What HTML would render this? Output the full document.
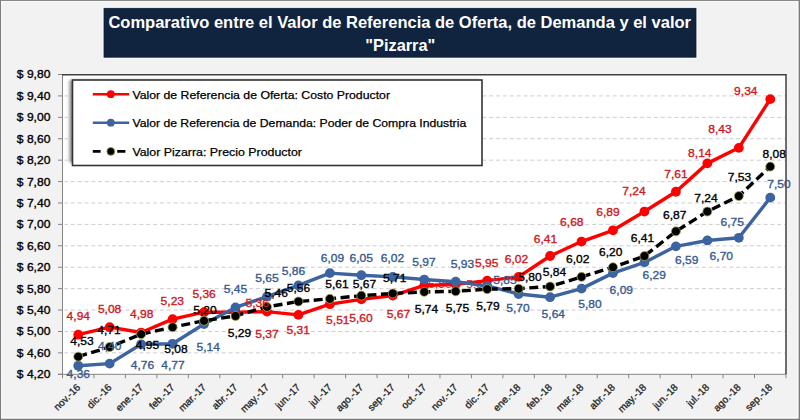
<!DOCTYPE html><html><head><meta charset="utf-8"><style>html,body{margin:0;padding:0;background:#f2f2f2;}svg{display:block;font-family:"Liberation Sans",sans-serif;}</style></head><body>
<svg width="800" height="420" viewBox="0 0 800 420">
<defs><filter id="sh" x="-20%" y="-20%" width="140%" height="140%"><feGaussianBlur stdDeviation="1.6"/></filter></defs>
<rect x="0" y="0" width="800" height="420" fill="#7c7c7c"/>
<rect x="1" y="0.9" width="797.6" height="417.8" fill="#fbfbfb"/>
<rect x="1.8" y="1.8" width="795.2" height="415.4" fill="#f2f2f2"/>
<rect x="102.3" y="6.6" width="595.4" height="52.4" fill="#fbfbfb"/>
<rect x="104" y="8.3" width="592" height="48.9" fill="#10243f" stroke="#0a1a31" stroke-width="0.8"/>
<text x="108.4" y="28.3" font-size="16.5" font-weight="bold" fill="#ffffff" textLength="582.6" lengthAdjust="spacingAndGlyphs">Comparativo entre el Valor de Referencia de Oferta, de Demanda y el valor</text>
<text x="365.3" y="50.8" font-size="16.5" font-weight="bold" fill="#ffffff" textLength="70" lengthAdjust="spacingAndGlyphs">"Pizarra"</text>
<rect x="62.5" y="74.5" width="723.5" height="299.8" fill="#ffffff"/>
<line x1="64.5" y1="95.91" x2="785" y2="95.91" stroke="#cdcdcd" stroke-width="1" stroke-dasharray="4 2.86" stroke-dashoffset="0.6"/>
<line x1="64.5" y1="117.33" x2="785" y2="117.33" stroke="#cdcdcd" stroke-width="1" stroke-dasharray="4 2.86" stroke-dashoffset="0.6"/>
<line x1="64.5" y1="138.74" x2="785" y2="138.74" stroke="#cdcdcd" stroke-width="1" stroke-dasharray="4 2.86" stroke-dashoffset="0.6"/>
<line x1="64.5" y1="160.16" x2="785" y2="160.16" stroke="#cdcdcd" stroke-width="1" stroke-dasharray="4 2.86" stroke-dashoffset="0.6"/>
<line x1="64.5" y1="181.57" x2="785" y2="181.57" stroke="#cdcdcd" stroke-width="1" stroke-dasharray="4 2.86" stroke-dashoffset="0.6"/>
<line x1="64.5" y1="202.99" x2="785" y2="202.99" stroke="#cdcdcd" stroke-width="1" stroke-dasharray="4 2.86" stroke-dashoffset="0.6"/>
<line x1="64.5" y1="224.4" x2="785" y2="224.4" stroke="#cdcdcd" stroke-width="1" stroke-dasharray="4 2.86" stroke-dashoffset="0.6"/>
<line x1="64.5" y1="245.81" x2="785" y2="245.81" stroke="#cdcdcd" stroke-width="1" stroke-dasharray="4 2.86" stroke-dashoffset="0.6"/>
<line x1="64.5" y1="267.23" x2="785" y2="267.23" stroke="#cdcdcd" stroke-width="1" stroke-dasharray="4 2.86" stroke-dashoffset="0.6"/>
<line x1="64.5" y1="288.64" x2="785" y2="288.64" stroke="#cdcdcd" stroke-width="1" stroke-dasharray="4 2.86" stroke-dashoffset="0.6"/>
<line x1="64.5" y1="310.06" x2="785" y2="310.06" stroke="#cdcdcd" stroke-width="1" stroke-dasharray="4 2.86" stroke-dashoffset="0.6"/>
<line x1="64.5" y1="331.47" x2="785" y2="331.47" stroke="#cdcdcd" stroke-width="1" stroke-dasharray="4 2.86" stroke-dashoffset="0.6"/>
<line x1="64.5" y1="352.89" x2="785" y2="352.89" stroke="#cdcdcd" stroke-width="1" stroke-dasharray="4 2.86" stroke-dashoffset="0.6"/>
<line x1="62.5" y1="74" x2="62.5" y2="378" stroke="#858585" stroke-width="1"/>
<line x1="58" y1="374.3" x2="786" y2="374.3" stroke="#858585" stroke-width="1"/>
<line x1="58" y1="74.5" x2="62.5" y2="74.5" stroke="#858585" stroke-width="1"/>
<text transform="translate(50.4 78.45) scale(1.05 1)" font-size="11.5" text-anchor="end" fill="#000" stroke="#000" stroke-width="0.35">$ 9,80</text>
<line x1="58" y1="95.91" x2="62.5" y2="95.91" stroke="#858585" stroke-width="1"/>
<text transform="translate(50.4 99.86) scale(1.05 1)" font-size="11.5" text-anchor="end" fill="#000" stroke="#000" stroke-width="0.35">$ 9,40</text>
<line x1="58" y1="117.33" x2="62.5" y2="117.33" stroke="#858585" stroke-width="1"/>
<text transform="translate(50.4 121.28) scale(1.05 1)" font-size="11.5" text-anchor="end" fill="#000" stroke="#000" stroke-width="0.35">$ 9,00</text>
<line x1="58" y1="138.74" x2="62.5" y2="138.74" stroke="#858585" stroke-width="1"/>
<text transform="translate(50.4 142.69) scale(1.05 1)" font-size="11.5" text-anchor="end" fill="#000" stroke="#000" stroke-width="0.35">$ 8,60</text>
<line x1="58" y1="160.16" x2="62.5" y2="160.16" stroke="#858585" stroke-width="1"/>
<text transform="translate(50.4 164.11) scale(1.05 1)" font-size="11.5" text-anchor="end" fill="#000" stroke="#000" stroke-width="0.35">$ 8,20</text>
<line x1="58" y1="181.57" x2="62.5" y2="181.57" stroke="#858585" stroke-width="1"/>
<text transform="translate(50.4 185.52) scale(1.05 1)" font-size="11.5" text-anchor="end" fill="#000" stroke="#000" stroke-width="0.35">$ 7,80</text>
<line x1="58" y1="202.99" x2="62.5" y2="202.99" stroke="#858585" stroke-width="1"/>
<text transform="translate(50.4 206.94) scale(1.05 1)" font-size="11.5" text-anchor="end" fill="#000" stroke="#000" stroke-width="0.35">$ 7,40</text>
<line x1="58" y1="224.4" x2="62.5" y2="224.4" stroke="#858585" stroke-width="1"/>
<text transform="translate(50.4 228.35) scale(1.05 1)" font-size="11.5" text-anchor="end" fill="#000" stroke="#000" stroke-width="0.35">$ 7,00</text>
<line x1="58" y1="245.81" x2="62.5" y2="245.81" stroke="#858585" stroke-width="1"/>
<text transform="translate(50.4 249.76) scale(1.05 1)" font-size="11.5" text-anchor="end" fill="#000" stroke="#000" stroke-width="0.35">$ 6,60</text>
<line x1="58" y1="267.23" x2="62.5" y2="267.23" stroke="#858585" stroke-width="1"/>
<text transform="translate(50.4 271.18) scale(1.05 1)" font-size="11.5" text-anchor="end" fill="#000" stroke="#000" stroke-width="0.35">$ 6,20</text>
<line x1="58" y1="288.64" x2="62.5" y2="288.64" stroke="#858585" stroke-width="1"/>
<text transform="translate(50.4 292.59) scale(1.05 1)" font-size="11.5" text-anchor="end" fill="#000" stroke="#000" stroke-width="0.35">$ 5,80</text>
<line x1="58" y1="310.06" x2="62.5" y2="310.06" stroke="#858585" stroke-width="1"/>
<text transform="translate(50.4 314.01) scale(1.05 1)" font-size="11.5" text-anchor="end" fill="#000" stroke="#000" stroke-width="0.35">$ 5,40</text>
<line x1="58" y1="331.47" x2="62.5" y2="331.47" stroke="#858585" stroke-width="1"/>
<text transform="translate(50.4 335.42) scale(1.05 1)" font-size="11.5" text-anchor="end" fill="#000" stroke="#000" stroke-width="0.35">$ 5,00</text>
<line x1="58" y1="352.89" x2="62.5" y2="352.89" stroke="#858585" stroke-width="1"/>
<text transform="translate(50.4 356.84) scale(1.05 1)" font-size="11.5" text-anchor="end" fill="#000" stroke="#000" stroke-width="0.35">$ 4,60</text>
<line x1="58" y1="374.3" x2="62.5" y2="374.3" stroke="#858585" stroke-width="1"/>
<text transform="translate(50.4 378.25) scale(1.05 1)" font-size="11.5" text-anchor="end" fill="#000" stroke="#000" stroke-width="0.35">$ 4,20</text>
<line x1="62.5" y1="374.3" x2="62.5" y2="378.3" stroke="#858585" stroke-width="1"/>
<line x1="93.96" y1="374.3" x2="93.96" y2="378.3" stroke="#858585" stroke-width="1"/>
<line x1="125.41" y1="374.3" x2="125.41" y2="378.3" stroke="#858585" stroke-width="1"/>
<line x1="156.87" y1="374.3" x2="156.87" y2="378.3" stroke="#858585" stroke-width="1"/>
<line x1="188.33" y1="374.3" x2="188.33" y2="378.3" stroke="#858585" stroke-width="1"/>
<line x1="219.78" y1="374.3" x2="219.78" y2="378.3" stroke="#858585" stroke-width="1"/>
<line x1="251.24" y1="374.3" x2="251.24" y2="378.3" stroke="#858585" stroke-width="1"/>
<line x1="282.7" y1="374.3" x2="282.7" y2="378.3" stroke="#858585" stroke-width="1"/>
<line x1="314.15" y1="374.3" x2="314.15" y2="378.3" stroke="#858585" stroke-width="1"/>
<line x1="345.61" y1="374.3" x2="345.61" y2="378.3" stroke="#858585" stroke-width="1"/>
<line x1="377.07" y1="374.3" x2="377.07" y2="378.3" stroke="#858585" stroke-width="1"/>
<line x1="408.52" y1="374.3" x2="408.52" y2="378.3" stroke="#858585" stroke-width="1"/>
<line x1="439.98" y1="374.3" x2="439.98" y2="378.3" stroke="#858585" stroke-width="1"/>
<line x1="471.43" y1="374.3" x2="471.43" y2="378.3" stroke="#858585" stroke-width="1"/>
<line x1="502.89" y1="374.3" x2="502.89" y2="378.3" stroke="#858585" stroke-width="1"/>
<line x1="534.35" y1="374.3" x2="534.35" y2="378.3" stroke="#858585" stroke-width="1"/>
<line x1="565.8" y1="374.3" x2="565.8" y2="378.3" stroke="#858585" stroke-width="1"/>
<line x1="597.26" y1="374.3" x2="597.26" y2="378.3" stroke="#858585" stroke-width="1"/>
<line x1="628.72" y1="374.3" x2="628.72" y2="378.3" stroke="#858585" stroke-width="1"/>
<line x1="660.17" y1="374.3" x2="660.17" y2="378.3" stroke="#858585" stroke-width="1"/>
<line x1="691.63" y1="374.3" x2="691.63" y2="378.3" stroke="#858585" stroke-width="1"/>
<line x1="723.09" y1="374.3" x2="723.09" y2="378.3" stroke="#858585" stroke-width="1"/>
<line x1="754.54" y1="374.3" x2="754.54" y2="378.3" stroke="#858585" stroke-width="1"/>
<line x1="786" y1="374.3" x2="786" y2="378.3" stroke="#858585" stroke-width="1"/>
<path d="M62 74.7 H786 V374.3" fill="none" stroke="#404040" stroke-width="1.5"/>
<text transform="translate(80.83 388) rotate(-45)" font-size="10" text-anchor="end" fill="#1e1e1e" stroke="#1e1e1e" stroke-width="0.3">nov.-16</text>
<text transform="translate(112.28 388) rotate(-45)" font-size="10" text-anchor="end" fill="#1e1e1e" stroke="#1e1e1e" stroke-width="0.3">dic.-16</text>
<text transform="translate(143.74 388) rotate(-45)" font-size="10" text-anchor="end" fill="#1e1e1e" stroke="#1e1e1e" stroke-width="0.3">ene.-17</text>
<text transform="translate(175.2 388) rotate(-45)" font-size="10" text-anchor="end" fill="#1e1e1e" stroke="#1e1e1e" stroke-width="0.3">feb.-17</text>
<text transform="translate(206.65 388) rotate(-45)" font-size="10" text-anchor="end" fill="#1e1e1e" stroke="#1e1e1e" stroke-width="0.3">mar.-17</text>
<text transform="translate(238.11 388) rotate(-45)" font-size="10" text-anchor="end" fill="#1e1e1e" stroke="#1e1e1e" stroke-width="0.3">abr.-17</text>
<text transform="translate(269.57 388) rotate(-45)" font-size="10" text-anchor="end" fill="#1e1e1e" stroke="#1e1e1e" stroke-width="0.3">may.-17</text>
<text transform="translate(301.02 388) rotate(-45)" font-size="10" text-anchor="end" fill="#1e1e1e" stroke="#1e1e1e" stroke-width="0.3">jun.-17</text>
<text transform="translate(332.48 388) rotate(-45)" font-size="10" text-anchor="end" fill="#1e1e1e" stroke="#1e1e1e" stroke-width="0.3">jul.-17</text>
<text transform="translate(363.94 388) rotate(-45)" font-size="10" text-anchor="end" fill="#1e1e1e" stroke="#1e1e1e" stroke-width="0.3">ago.-17</text>
<text transform="translate(395.39 388) rotate(-45)" font-size="10" text-anchor="end" fill="#1e1e1e" stroke="#1e1e1e" stroke-width="0.3">sep.-17</text>
<text transform="translate(426.85 388) rotate(-45)" font-size="10" text-anchor="end" fill="#1e1e1e" stroke="#1e1e1e" stroke-width="0.3">oct.-17</text>
<text transform="translate(458.31 388) rotate(-45)" font-size="10" text-anchor="end" fill="#1e1e1e" stroke="#1e1e1e" stroke-width="0.3">nov.-17</text>
<text transform="translate(489.76 388) rotate(-45)" font-size="10" text-anchor="end" fill="#1e1e1e" stroke="#1e1e1e" stroke-width="0.3">dic.-17</text>
<text transform="translate(521.22 388) rotate(-45)" font-size="10" text-anchor="end" fill="#1e1e1e" stroke="#1e1e1e" stroke-width="0.3">ene.-18</text>
<text transform="translate(552.68 388) rotate(-45)" font-size="10" text-anchor="end" fill="#1e1e1e" stroke="#1e1e1e" stroke-width="0.3">feb.-18</text>
<text transform="translate(584.13 388) rotate(-45)" font-size="10" text-anchor="end" fill="#1e1e1e" stroke="#1e1e1e" stroke-width="0.3">mar.-18</text>
<text transform="translate(615.59 388) rotate(-45)" font-size="10" text-anchor="end" fill="#1e1e1e" stroke="#1e1e1e" stroke-width="0.3">abr.-18</text>
<text transform="translate(647.05 388) rotate(-45)" font-size="10" text-anchor="end" fill="#1e1e1e" stroke="#1e1e1e" stroke-width="0.3">may.-18</text>
<text transform="translate(678.5 388) rotate(-45)" font-size="10" text-anchor="end" fill="#1e1e1e" stroke="#1e1e1e" stroke-width="0.3">jun.-18</text>
<text transform="translate(709.96 388) rotate(-45)" font-size="10" text-anchor="end" fill="#1e1e1e" stroke="#1e1e1e" stroke-width="0.3">jul.-18</text>
<text transform="translate(741.42 388) rotate(-45)" font-size="10" text-anchor="end" fill="#1e1e1e" stroke="#1e1e1e" stroke-width="0.3">ago.-18</text>
<text transform="translate(772.87 388) rotate(-45)" font-size="10" text-anchor="end" fill="#1e1e1e" stroke="#1e1e1e" stroke-width="0.3">sep.-18</text>
<text transform="translate(440 288.22) scale(1.045 1)" font-size="11.5" text-anchor="middle" fill="#cf1822" stroke="#fff" stroke-width="2" paint-order="stroke">5,86</text>
<text transform="translate(478 288.22) scale(1.045 1)" font-size="11.5" text-anchor="middle" fill="#cf1822" stroke="#fff" stroke-width="2" paint-order="stroke">5,88</text>
<polyline points="78.23,334.68 109.68,327.19 141.14,332.54 172.6,319.16 204.05,312.2 235.51,312.2 266.97,311.66 298.42,314.88 329.88,304.17 361.34,299.35 392.79,295.6 424.25,285.43 455.71,284.36 487.16,280.61 518.62,276.87 550.08,255.99 581.53,241.53 612.99,230.29 644.45,211.55 675.9,191.74 707.36,163.37 738.82,147.84 770.27,99.13" fill="none" stroke="#ff0000" stroke-width="3.4" stroke-linejoin="round"/>
<circle cx="78.23" cy="334.68" r="4.9" fill="#ff0000"/>
<circle cx="109.68" cy="327.19" r="4.9" fill="#ff0000"/>
<circle cx="141.14" cy="332.54" r="4.9" fill="#ff0000"/>
<circle cx="172.6" cy="319.16" r="4.9" fill="#ff0000"/>
<circle cx="204.05" cy="312.2" r="4.9" fill="#ff0000"/>
<circle cx="235.51" cy="312.2" r="4.9" fill="#ff0000"/>
<circle cx="266.97" cy="311.66" r="4.9" fill="#ff0000"/>
<circle cx="298.42" cy="314.88" r="4.9" fill="#ff0000"/>
<circle cx="329.88" cy="304.17" r="4.9" fill="#ff0000"/>
<circle cx="361.34" cy="299.35" r="4.9" fill="#ff0000"/>
<circle cx="392.79" cy="295.6" r="4.9" fill="#ff0000"/>
<circle cx="424.25" cy="285.43" r="4.9" fill="#ff0000"/>
<circle cx="455.71" cy="284.36" r="4.9" fill="#ff0000"/>
<circle cx="487.16" cy="280.61" r="4.9" fill="#ff0000"/>
<circle cx="518.62" cy="276.87" r="4.9" fill="#ff0000"/>
<circle cx="550.08" cy="255.99" r="4.9" fill="#ff0000"/>
<circle cx="581.53" cy="241.53" r="4.9" fill="#ff0000"/>
<circle cx="612.99" cy="230.29" r="4.9" fill="#ff0000"/>
<circle cx="644.45" cy="211.55" r="4.9" fill="#ff0000"/>
<circle cx="675.9" cy="191.74" r="4.9" fill="#ff0000"/>
<circle cx="707.36" cy="163.37" r="4.9" fill="#ff0000"/>
<circle cx="738.82" cy="147.84" r="4.9" fill="#ff0000"/>
<circle cx="770.27" cy="99.13" r="4.9" fill="#ff0000"/>
<polyline points="78.23,365.73 109.68,363.59 141.14,344.32 172.6,343.78 204.05,323.98 235.51,307.38 266.97,296.67 298.42,285.43 329.88,273.12 361.34,275.26 392.79,276.87 424.25,279.54 455.71,281.68 487.16,285.97 518.62,294 550.08,297.21 581.53,288.64 612.99,273.12 644.45,262.41 675.9,246.35 707.36,240.46 738.82,237.78 770.27,197.63" fill="none" stroke="#3c64a0" stroke-width="3.4" stroke-linejoin="round"/>
<circle cx="78.23" cy="365.73" r="4.9" fill="#3c64a0"/>
<circle cx="109.68" cy="363.59" r="4.9" fill="#3c64a0"/>
<circle cx="141.14" cy="344.32" r="4.9" fill="#3c64a0"/>
<circle cx="172.6" cy="343.78" r="4.9" fill="#3c64a0"/>
<circle cx="204.05" cy="323.98" r="4.9" fill="#3c64a0"/>
<circle cx="235.51" cy="307.38" r="4.9" fill="#3c64a0"/>
<circle cx="266.97" cy="296.67" r="4.9" fill="#3c64a0"/>
<circle cx="298.42" cy="285.43" r="4.9" fill="#3c64a0"/>
<circle cx="329.88" cy="273.12" r="4.9" fill="#3c64a0"/>
<circle cx="361.34" cy="275.26" r="4.9" fill="#3c64a0"/>
<circle cx="392.79" cy="276.87" r="4.9" fill="#3c64a0"/>
<circle cx="424.25" cy="279.54" r="4.9" fill="#3c64a0"/>
<circle cx="455.71" cy="281.68" r="4.9" fill="#3c64a0"/>
<circle cx="487.16" cy="285.97" r="4.9" fill="#3c64a0"/>
<circle cx="518.62" cy="294" r="4.9" fill="#3c64a0"/>
<circle cx="550.08" cy="297.21" r="4.9" fill="#3c64a0"/>
<circle cx="581.53" cy="288.64" r="4.9" fill="#3c64a0"/>
<circle cx="612.99" cy="273.12" r="4.9" fill="#3c64a0"/>
<circle cx="644.45" cy="262.41" r="4.9" fill="#3c64a0"/>
<circle cx="675.9" cy="246.35" r="4.9" fill="#3c64a0"/>
<circle cx="707.36" cy="240.46" r="4.9" fill="#3c64a0"/>
<circle cx="738.82" cy="237.78" r="4.9" fill="#3c64a0"/>
<circle cx="770.27" cy="197.63" r="4.9" fill="#3c64a0"/>
<polyline points="78.23,356.63 109.68,347 141.14,334.15 172.6,327.19 204.05,320.76 235.51,315.95 266.97,306.85 298.42,301.49 329.88,298.81 361.34,295.6 392.79,293.46 424.25,291.86 455.71,291.32 487.16,289.18 518.62,288.64 550.08,286.5 581.53,276.87 612.99,267.23 644.45,255.99 675.9,231.36 707.36,211.55 738.82,196.03 770.27,166.58" fill="none" stroke="#000000" stroke-width="3.4" stroke-linejoin="round" stroke-dasharray="9 4.5"/>
<circle cx="78.23" cy="356.63" r="4.5" fill="#000" stroke="#a8a850" stroke-width="0.8"/>
<circle cx="109.68" cy="347" r="4.5" fill="#000" stroke="#a8a850" stroke-width="0.8"/>
<circle cx="141.14" cy="334.15" r="4.5" fill="#000" stroke="#a8a850" stroke-width="0.8"/>
<circle cx="172.6" cy="327.19" r="4.5" fill="#000" stroke="#a8a850" stroke-width="0.8"/>
<circle cx="204.05" cy="320.76" r="4.5" fill="#000" stroke="#a8a850" stroke-width="0.8"/>
<circle cx="235.51" cy="315.95" r="4.5" fill="#000" stroke="#a8a850" stroke-width="0.8"/>
<circle cx="266.97" cy="306.85" r="4.5" fill="#000" stroke="#a8a850" stroke-width="0.8"/>
<circle cx="298.42" cy="301.49" r="4.5" fill="#000" stroke="#a8a850" stroke-width="0.8"/>
<circle cx="329.88" cy="298.81" r="4.5" fill="#000" stroke="#a8a850" stroke-width="0.8"/>
<circle cx="361.34" cy="295.6" r="4.5" fill="#000" stroke="#a8a850" stroke-width="0.8"/>
<circle cx="392.79" cy="293.46" r="4.5" fill="#000" stroke="#a8a850" stroke-width="0.8"/>
<circle cx="424.25" cy="291.86" r="4.5" fill="#000" stroke="#a8a850" stroke-width="0.8"/>
<circle cx="455.71" cy="291.32" r="4.5" fill="#000" stroke="#a8a850" stroke-width="0.8"/>
<circle cx="487.16" cy="289.18" r="4.5" fill="#000" stroke="#a8a850" stroke-width="0.8"/>
<circle cx="518.62" cy="288.64" r="4.5" fill="#000" stroke="#a8a850" stroke-width="0.8"/>
<circle cx="550.08" cy="286.5" r="4.5" fill="#000" stroke="#a8a850" stroke-width="0.8"/>
<circle cx="581.53" cy="276.87" r="4.5" fill="#000" stroke="#a8a850" stroke-width="0.8"/>
<circle cx="612.99" cy="267.23" r="4.5" fill="#000" stroke="#a8a850" stroke-width="0.8"/>
<circle cx="644.45" cy="255.99" r="4.5" fill="#000" stroke="#a8a850" stroke-width="0.8"/>
<circle cx="675.9" cy="231.36" r="4.5" fill="#000" stroke="#a8a850" stroke-width="0.8"/>
<circle cx="707.36" cy="211.55" r="4.5" fill="#000" stroke="#a8a850" stroke-width="0.8"/>
<circle cx="738.82" cy="196.03" r="4.5" fill="#000" stroke="#a8a850" stroke-width="0.8"/>
<circle cx="770.27" cy="166.58" r="4.5" fill="#000" stroke="#a8a850" stroke-width="0.8"/>
<text transform="translate(78.3 320.22) scale(1.045 1)" font-size="11.5" text-anchor="middle" fill="#cf1822" stroke="#cf1822" stroke-width="0.35">4,94</text>
<text transform="translate(109.6 313.22) scale(1.045 1)" font-size="11.5" text-anchor="middle" fill="#cf1822" stroke="#cf1822" stroke-width="0.35">5,08</text>
<text transform="translate(141.7 318.42) scale(1.045 1)" font-size="11.5" text-anchor="middle" fill="#cf1822" stroke="#cf1822" stroke-width="0.35">4,98</text>
<text transform="translate(172.3 305.12) scale(1.045 1)" font-size="11.5" text-anchor="middle" fill="#cf1822" stroke="#cf1822" stroke-width="0.35">5,23</text>
<text transform="translate(204.1 298.12) scale(1.045 1)" font-size="11.5" text-anchor="middle" fill="#cf1822" stroke="#cf1822" stroke-width="0.35">5,36</text>
<text transform="translate(257.2 306.92) scale(1.045 1)" font-size="11.5" text-anchor="middle" fill="#cf1822" stroke="#cf1822" stroke-width="0.35">5,36</text>
<text transform="translate(267 337.52) scale(1.045 1)" font-size="11.5" text-anchor="middle" fill="#cf1822" stroke="#cf1822" stroke-width="0.35">5,37</text>
<text transform="translate(298.2 333.62) scale(1.045 1)" font-size="11.5" text-anchor="middle" fill="#cf1822" stroke="#cf1822" stroke-width="0.35">5,31</text>
<text transform="translate(337.8 324.22) scale(1.045 1)" font-size="11.5" text-anchor="middle" fill="#cf1822" stroke="#cf1822" stroke-width="0.35">5,51</text>
<text transform="translate(361 321.92) scale(1.045 1)" font-size="11.5" text-anchor="middle" fill="#cf1822" stroke="#cf1822" stroke-width="0.35">5,60</text>
<text transform="translate(398.5 318.22) scale(1.045 1)" font-size="11.5" text-anchor="middle" fill="#cf1822" stroke="#cf1822" stroke-width="0.35">5,67</text>
<text transform="translate(486.7 266.72) scale(1.045 1)" font-size="11.5" text-anchor="middle" fill="#cf1822" stroke="#cf1822" stroke-width="0.35">5,95</text>
<text transform="translate(516.5 262.72) scale(1.045 1)" font-size="11.5" text-anchor="middle" fill="#cf1822" stroke="#cf1822" stroke-width="0.35">6,02</text>
<text transform="translate(545.5 243.02) scale(1.045 1)" font-size="11.5" text-anchor="middle" fill="#cf1822" stroke="#cf1822" stroke-width="0.35">6,41</text>
<text transform="translate(571.8 226.02) scale(1.045 1)" font-size="11.5" text-anchor="middle" fill="#cf1822" stroke="#cf1822" stroke-width="0.35">6,68</text>
<text transform="translate(608 216.02) scale(1.045 1)" font-size="11.5" text-anchor="middle" fill="#cf1822" stroke="#cf1822" stroke-width="0.35">6,89</text>
<text transform="translate(634 195.02) scale(1.045 1)" font-size="11.5" text-anchor="middle" fill="#cf1822" stroke="#cf1822" stroke-width="0.35">7,24</text>
<text transform="translate(676 178.12) scale(1.045 1)" font-size="11.5" text-anchor="middle" fill="#cf1822" stroke="#cf1822" stroke-width="0.35">7,61</text>
<text transform="translate(699.8 156.72) scale(1.045 1)" font-size="11.5" text-anchor="middle" fill="#cf1822" stroke="#cf1822" stroke-width="0.35">8,14</text>
<text transform="translate(720 133.32) scale(1.045 1)" font-size="11.5" text-anchor="middle" fill="#cf1822" stroke="#cf1822" stroke-width="0.35">8,43</text>
<text transform="translate(745.8 95.12) scale(1.045 1)" font-size="11.5" text-anchor="middle" fill="#cf1822" stroke="#cf1822" stroke-width="0.35">9,34</text>
<text transform="translate(78.3 377.72) scale(1.045 1)" font-size="11.5" text-anchor="middle" fill="#385a8f" stroke="#385a8f" stroke-width="0.35">4,36</text>
<text transform="translate(109.7 350.02) scale(1.045 1)" font-size="11.5" text-anchor="middle" fill="#385a8f" stroke="#385a8f" stroke-width="0.35">4,40</text>
<text transform="translate(142.5 368.72) scale(1.045 1)" font-size="11.5" text-anchor="middle" fill="#385a8f" stroke="#385a8f" stroke-width="0.35">4,76</text>
<text transform="translate(173 368.72) scale(1.045 1)" font-size="11.5" text-anchor="middle" fill="#385a8f" stroke="#385a8f" stroke-width="0.35">4,77</text>
<text transform="translate(208.2 350.92) scale(1.045 1)" font-size="11.5" text-anchor="middle" fill="#385a8f" stroke="#385a8f" stroke-width="0.35">5,14</text>
<text transform="translate(235.4 293.22) scale(1.045 1)" font-size="11.5" text-anchor="middle" fill="#385a8f" stroke="#385a8f" stroke-width="0.35">5,45</text>
<text transform="translate(266.9 282.42) scale(1.045 1)" font-size="11.5" text-anchor="middle" fill="#385a8f" stroke="#385a8f" stroke-width="0.35">5,65</text>
<text transform="translate(293.5 274.72) scale(1.045 1)" font-size="11.5" text-anchor="middle" fill="#385a8f" stroke="#385a8f" stroke-width="0.35">5,86</text>
<text transform="translate(332.5 262.22) scale(1.045 1)" font-size="11.5" text-anchor="middle" fill="#385a8f" stroke="#385a8f" stroke-width="0.35">6,09</text>
<text transform="translate(361.2 261.72) scale(1.045 1)" font-size="11.5" text-anchor="middle" fill="#385a8f" stroke="#385a8f" stroke-width="0.35">6,05</text>
<text transform="translate(392.5 262.22) scale(1.045 1)" font-size="11.5" text-anchor="middle" fill="#385a8f" stroke="#385a8f" stroke-width="0.35">6,02</text>
<text transform="translate(424 265.72) scale(1.045 1)" font-size="11.5" text-anchor="middle" fill="#385a8f" stroke="#385a8f" stroke-width="0.35">5,97</text>
<text transform="translate(462.5 267.72) scale(1.045 1)" font-size="11.5" text-anchor="middle" fill="#385a8f" stroke="#385a8f" stroke-width="0.35">5,93</text>
<text transform="translate(505 284.02) scale(1.045 1)" font-size="11.5" text-anchor="middle" fill="#385a8f" stroke="#385a8f" stroke-width="0.35">5,85</text>
<text transform="translate(518 312.42) scale(1.045 1)" font-size="11.5" text-anchor="middle" fill="#385a8f" stroke="#385a8f" stroke-width="0.35">5,70</text>
<text transform="translate(553.3 317.72) scale(1.045 1)" font-size="11.5" text-anchor="middle" fill="#385a8f" stroke="#385a8f" stroke-width="0.35">5,64</text>
<text transform="translate(590 307.52) scale(1.045 1)" font-size="11.5" text-anchor="middle" fill="#385a8f" stroke="#385a8f" stroke-width="0.35">5,80</text>
<text transform="translate(621.3 294.42) scale(1.045 1)" font-size="11.5" text-anchor="middle" fill="#385a8f" stroke="#385a8f" stroke-width="0.35">6,09</text>
<text transform="translate(654.2 279.22) scale(1.045 1)" font-size="11.5" text-anchor="middle" fill="#385a8f" stroke="#385a8f" stroke-width="0.35">6,29</text>
<text transform="translate(686.7 263.92) scale(1.045 1)" font-size="11.5" text-anchor="middle" fill="#385a8f" stroke="#385a8f" stroke-width="0.35">6,59</text>
<text transform="translate(721.3 260.42) scale(1.045 1)" font-size="11.5" text-anchor="middle" fill="#385a8f" stroke="#385a8f" stroke-width="0.35">6,70</text>
<text transform="translate(732.2 226.42) scale(1.045 1)" font-size="11.5" text-anchor="middle" fill="#385a8f" stroke="#385a8f" stroke-width="0.35">6,75</text>
<text transform="translate(779 187.72) scale(1.045 1)" font-size="11.5" text-anchor="middle" fill="#385a8f" stroke="#385a8f" stroke-width="0.35">7,50</text>
<text transform="translate(81.9 344.72) scale(1.045 1)" font-size="11.5" text-anchor="middle" fill="#000" stroke="#000" stroke-width="0.35">4,53</text>
<text transform="translate(108.9 334.42) scale(1.045 1)" font-size="11.5" text-anchor="middle" fill="#000" stroke="#000" stroke-width="0.35">4,71</text>
<text transform="translate(147.4 349.02) scale(1.045 1)" font-size="11.5" text-anchor="middle" fill="#000" stroke="#000" stroke-width="0.35">4,95</text>
<text transform="translate(176 352.62) scale(1.045 1)" font-size="11.5" text-anchor="middle" fill="#000" stroke="#000" stroke-width="0.35">5,08</text>
<text transform="translate(205 313.92) scale(1.045 1)" font-size="11.5" text-anchor="middle" fill="#000" stroke="#000" stroke-width="0.35">5,20</text>
<text transform="translate(239.5 337.32) scale(1.045 1)" font-size="11.5" text-anchor="middle" fill="#000" stroke="#000" stroke-width="0.35">5,29</text>
<text transform="translate(276.2 296.72) scale(1.045 1)" font-size="11.5" text-anchor="middle" fill="#000" stroke="#000" stroke-width="0.35">5,46</text>
<text transform="translate(298.5 292.22) scale(1.045 1)" font-size="11.5" text-anchor="middle" fill="#000" stroke="#000" stroke-width="0.35">5,56</text>
<text transform="translate(336.9 287.72) scale(1.045 1)" font-size="11.5" text-anchor="middle" fill="#000" stroke="#000" stroke-width="0.35">5,61</text>
<text transform="translate(364.4 287.92) scale(1.045 1)" font-size="11.5" text-anchor="middle" fill="#000" stroke="#000" stroke-width="0.35">5,67</text>
<text transform="translate(394.7 281.92) scale(1.045 1)" font-size="11.5" text-anchor="middle" fill="#000" stroke="#000" stroke-width="0.35">5,71</text>
<text transform="translate(426.5 313.22) scale(1.045 1)" font-size="11.5" text-anchor="middle" fill="#000" stroke="#000" stroke-width="0.35">5,74</text>
<text transform="translate(457.5 311.72) scale(1.045 1)" font-size="11.5" text-anchor="middle" fill="#000" stroke="#000" stroke-width="0.35">5,75</text>
<text transform="translate(488 309.92) scale(1.045 1)" font-size="11.5" text-anchor="middle" fill="#000" stroke="#000" stroke-width="0.35">5,79</text>
<text transform="translate(530 281.32) scale(1.045 1)" font-size="11.5" text-anchor="middle" fill="#000" stroke="#000" stroke-width="0.35">5,80</text>
<text transform="translate(554.5 276.42) scale(1.045 1)" font-size="11.5" text-anchor="middle" fill="#000" stroke="#000" stroke-width="0.35">5,84</text>
<text transform="translate(577.7 263.02) scale(1.045 1)" font-size="11.5" text-anchor="middle" fill="#000" stroke="#000" stroke-width="0.35">6,02</text>
<text transform="translate(610.7 256.42) scale(1.045 1)" font-size="11.5" text-anchor="middle" fill="#000" stroke="#000" stroke-width="0.35">6,20</text>
<text transform="translate(642.4 241.82) scale(1.045 1)" font-size="11.5" text-anchor="middle" fill="#000" stroke="#000" stroke-width="0.35">6,41</text>
<text transform="translate(674.7 219.22) scale(1.045 1)" font-size="11.5" text-anchor="middle" fill="#000" stroke="#000" stroke-width="0.35">6,87</text>
<text transform="translate(706 201.52) scale(1.045 1)" font-size="11.5" text-anchor="middle" fill="#000" stroke="#000" stroke-width="0.35">7,24</text>
<text transform="translate(739.5 181.02) scale(1.045 1)" font-size="11.5" text-anchor="middle" fill="#000" stroke="#000" stroke-width="0.35">7,53</text>
<text transform="translate(774.2 157.72) scale(1.045 1)" font-size="11.5" text-anchor="middle" fill="#000" stroke="#000" stroke-width="0.35">8,08</text>
<rect x="69.5" y="80" width="409.5" height="82.5" fill="#6a6a6a" filter="url(#sh)" opacity="0.8"/>
<rect x="72.5" y="80" width="409.5" height="85.5" fill="#ffffff" stroke="#333" stroke-width="1.6"/>
<line x1="92.8" y1="94.2" x2="129.2" y2="94.2" stroke="#ff0000" stroke-width="2.6"/>
<circle cx="110.8" cy="94.2" r="3.9" fill="#ff0000"/>
<text x="132.4" y="98.6" font-size="11.2" fill="#000" stroke="#000" stroke-width="0.25" textLength="257.6" lengthAdjust="spacingAndGlyphs">Valor de Referencia de Oferta: Costo Productor</text>
<line x1="92.8" y1="122.7" x2="129.2" y2="122.7" stroke="#3c64a0" stroke-width="2.6"/>
<circle cx="110.8" cy="122.7" r="3.9" fill="#3c64a0"/>
<text x="132.4" y="127.1" font-size="11.2" fill="#000" stroke="#000" stroke-width="0.25" textLength="333.8" lengthAdjust="spacingAndGlyphs">Valor de Referencia de Demanda: Poder de Compra Industria</text>
<path d="M92.8 151.4 H100.6 M117.2 151.4 H125.4" stroke="#000000" stroke-width="2.8"/>
<circle cx="110.8" cy="151.4" r="3.9" fill="#000000" stroke="#9aa040" stroke-width="0.8"/>
<text x="132.4" y="155.8" font-size="11.2" fill="#000" stroke="#000" stroke-width="0.25" textLength="169.6" lengthAdjust="spacingAndGlyphs">Valor Pizarra: Precio Productor</text>
</svg></body></html>
